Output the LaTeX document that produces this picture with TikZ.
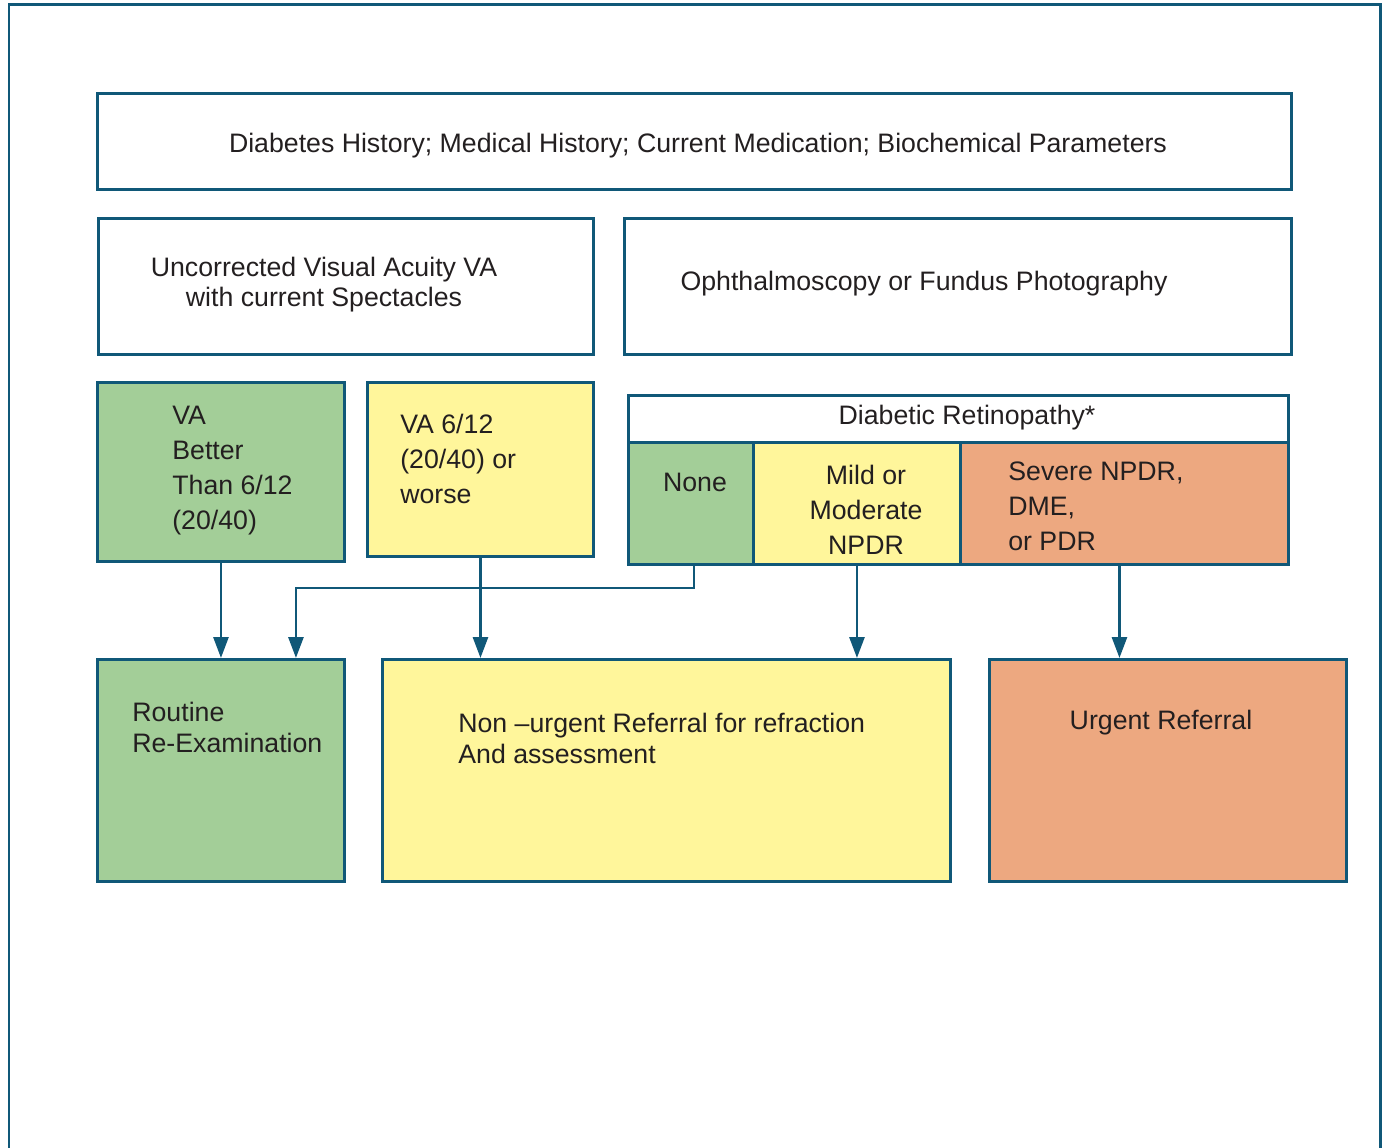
\documentclass[tikz,border=0pt]{standalone}
\usepackage{fontspec}
\setmainfont{Liberation Sans}
\usetikzlibrary{arrows.meta}
\definecolor{framecol}{RGB}{16,88,120}
\definecolor{txtcol}{RGB}{35,31,32}
\definecolor{okgreen}{RGB}{163,206,152}
\definecolor{midyellow}{RGB}{255,246,155}
\definecolor{hotorange}{RGB}{237,168,128}
\tikzset{box/.style={draw=framecol, line width=1.7pt, rectangle, inner sep=0pt, anchor=north west},
         lbl/.style={inner sep=0pt, text=txtcol, font=\fontsize{15.2}{19.9}\selectfont},
         tight/.style={font=\fontsize{15.2}{17.6}\selectfont},
         arr/.style={draw=framecol, line width=1.6pt, -{Triangle[length=0.42cm,width=0.3cm]}}}

\begin{document}
\begin{tikzpicture}[x=0.02cm,y=-0.02cm]
\useasboundingbox (0,0) rectangle (1387,1148);
\draw[framecol, line width=1.7pt] (9,1160) |- (1380,5) -- (1380,1160);
% top row
\node[box, minimum width=23.88cm, minimum height=1.92cm] (hist) at (96,92) {};
\node[box, minimum width=9.9cm, minimum height=2.72cm] (uva) at (97,217) {};
\node[box, minimum width=13.34cm, minimum height=2.72cm] (oph) at (623,217) {};
% findings
\node[box, fill=okgreen, minimum width=4.94cm, minimum height=3.58cm] (vagood) at (96,381) {};
\node[box, fill=midyellow, minimum width=4.52cm, minimum height=3.48cm] (vapoor) at (366,381) {};
\node[box, minimum width=13.2cm, minimum height=0.94cm] (drhead) at (627,394) {};
\node[box, fill=okgreen, minimum width=2.5cm, minimum height=2.44cm] (none) at (627,441) {};
\node[box, fill=midyellow, minimum width=4.14cm, minimum height=2.44cm] (mild) at (752,441) {};
\node[box, fill=hotorange, minimum width=6.56cm, minimum height=2.44cm] (severe) at (959,441) {};
% outcomes
\node[box, fill=okgreen, minimum width=4.94cm, minimum height=4.44cm] (routine) at (96,658) {};
\node[box, fill=midyellow, minimum width=11.36cm, minimum height=4.44cm] (nonurg) at (381,658) {};
\node[box, fill=hotorange, minimum width=7.14cm, minimum height=4.44cm] (urgent) at (988,658) {};
% texts
\node[lbl] (thist) at (698,146) {Diabetes History; Medical History; Current Medication; Biochemical Parameters};
\node[lbl, font=\fontsize{15.2}{17}\selectfont, align=center] (tuva) at (324,285) {Uncorrected Visual Acuity VA\\with current Spectacles};
\node[lbl] (toph) at (924,284) {Ophthalmoscopy or Fundus Photography};
\node[lbl, align=left, anchor=west] (tvagood) at (172,471) {VA\\Better\\Than 6/12\\(20/40)};
\node[lbl, align=left, anchor=west] (tvapoor) at (400,459) {VA 6/12\\(20/40) or\\worse};
\node[lbl] (tdrhead) at (967,418) {Diabetic Retinopathy*};
\node[lbl] (tnone) at (695,482) {None};
\node[lbl, align=center] (tmild) at (866,510) {Mild or\\Moderate\\NPDR};
\node[lbl, align=left, anchor=west] (tsevere) at (1008,506) {Severe NPDR,\\DME,\\or PDR};
\node[lbl, tight, align=left, anchor=west] (troutine) at (132,727.5) {Routine\\Re-Examination};
\node[lbl, tight, align=left, anchor=west] (tnonurg) at (458,738.5) {Non \textendash urgent Referral for refraction\\And assessment};
\node[lbl] (turgent) at (1161,723) {Urgent Referral};
% arrows
\draw[arr] (vagood.south) -- (vagood.south |- routine.north);
\draw[arr] (vapoor.south) -- (vapoor.south |- nonurg.north);
\draw[arr] ([xshift=0.06cm]none.south) -- ++(0,22) -| ([xshift=-1cm]routine.north east);
\draw[arr] (mild.south) -- (mild.south |- nonurg.north);
\draw[arr] ([xshift=-0.1cm]severe.south) -- ([xshift=-0.1cm]severe.south |- urgent.north);
\end{tikzpicture}
\end{document}
